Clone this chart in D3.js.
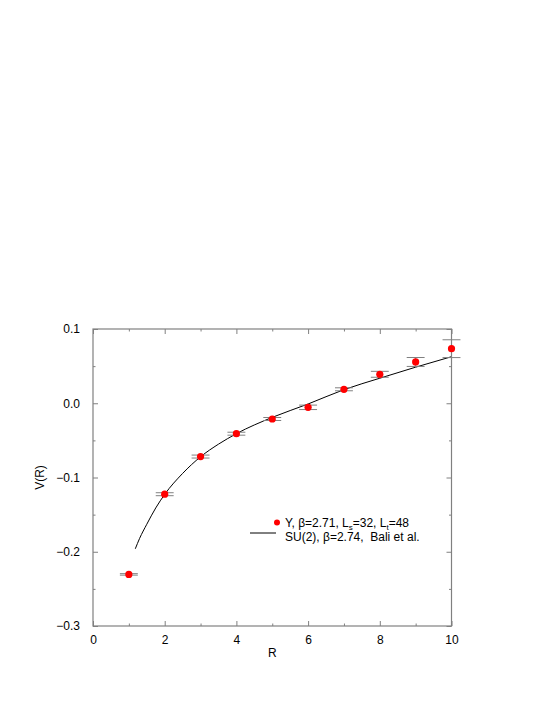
<!DOCTYPE html>
<html><head><meta charset="utf-8">
<script src="https://cdn.jsdelivr.net/npm/d3@7"></script>
<style>body{margin:0;background:#fff}svg{display:block}text{font-family:"Liberation Sans",Arial,Helvetica,sans-serif}</style>
</head><body>
<script>
// Data points (lattice Y configuration)
const pointR = [1, 2, 3, 4, 5, 6, 7, 8, 9, 10];
const pointV = [-0.2305, -0.1225, -0.0718, -0.041, -0.0212, -0.0055, 0.0188, 0.039, 0.0556, 0.0735];
const pointErr = [0.001, 0.002, 0.002, 0.002, 0.002, 0.003, 0.002, 0.004, 0.006, 0.012];
// SU(2) Bali et al. curve
const curveR = [1.18, 1.3, 1.5, 1.75, 2, 2.5, 3, 3.5, 4, 5, 6, 7, 8, 9, 10];
const curveV = [-0.196, -0.182, -0.163, -0.141, -0.1227, -0.0945, -0.0721, -0.0551, -0.041, -0.019, -0.001, 0.0183, 0.0337, 0.0486, 0.0627];
const xTicks = [0, 2, 4, 6, 8, 10];
const yTicks = [-0.3, -0.2, -0.1, 0.0, 0.1];
const xMinor = [1, 3, 5, 7, 9];
const yMinor = [-0.25, -0.15, -0.05, 0.05];

const W = 545, H = 705;
const FS = 12;
const svg = d3.select("body").append("svg").attr("width", W).attr("height", H);
const x = d3.scaleLinear().domain([0, 10]).range([93, 451.5]);
const y = d3.scaleLinear().domain([-0.3, 0.1]).range([626, 329]);
const axisCol = "#808080";

const g = svg.append("g");
// frame
g.append("rect").attr("x", x(0)).attr("y", y(0.1)).attr("width", x(10) - x(0)).attr("height", y(-0.3) - y(0.1))
  .attr("fill", "none").attr("stroke", axisCol).attr("stroke-width", 1.2);

function fmtY(d) { return d === 0 ? "0.0" : d3.format(".1f")(d).replace("-", "\u2212"); }

// axes via d3 axis generators, inward ticks
const axB = g.append("g").attr("transform", `translate(0,${y(-0.3)})`)
  .call(d3.axisBottom(x).tickValues(xTicks).tickSizeInner(-5).tickSizeOuter(0).tickPadding(9).tickFormat(d3.format("d")));
const axBm = g.append("g").attr("transform", `translate(0,${y(-0.3)})`)
  .call(d3.axisBottom(x).tickValues(xMinor).tickSizeInner(-2.5).tickSizeOuter(0).tickFormat(""));
const axT = g.append("g").attr("transform", `translate(0,${y(0.1)})`)
  .call(d3.axisTop(x).tickValues(xTicks).tickSizeInner(-5).tickSizeOuter(0).tickFormat(""));
const axTm = g.append("g").attr("transform", `translate(0,${y(0.1)})`)
  .call(d3.axisTop(x).tickValues(xMinor).tickSizeInner(-2.5).tickSizeOuter(0).tickFormat(""));
const axL = g.append("g").attr("transform", `translate(${x(0)},0)`)
  .call(d3.axisLeft(y).tickValues(yTicks).tickSizeInner(-5).tickSizeOuter(0).tickPadding(13).tickFormat(fmtY));
const axLm = g.append("g").attr("transform", `translate(${x(0)},0)`)
  .call(d3.axisLeft(y).tickValues(yMinor).tickSizeInner(-2.5).tickSizeOuter(0).tickFormat(""));
const axR = g.append("g").attr("transform", `translate(${x(10)},0)`)
  .call(d3.axisRight(y).tickValues(yTicks).tickSizeInner(-5).tickSizeOuter(0).tickFormat(""));
const axRm = g.append("g").attr("transform", `translate(${x(10)},0)`)
  .call(d3.axisRight(y).tickValues(yMinor).tickSizeInner(-2.5).tickSizeOuter(0).tickFormat(""));
[axB, axBm, axT, axTm, axL, axLm, axR, axRm].forEach(a => {
  a.select(".domain").remove();
  a.selectAll("line").attr("stroke", axisCol).attr("stroke-width", 1);
  a.selectAll("text").attr("fill", "#000").attr("font-size", FS).attr("font-family", "Liberation Sans, Arial, sans-serif");
});

// axis titles
g.append("text").attr("x", (x(0) + x(10)) / 2).attr("y", 657).attr("text-anchor", "middle").attr("font-size", FS).text("R");
g.append("text").attr("transform", `translate(44,${(y(0.1) + y(-0.3)) / 2}) rotate(-90)`).attr("text-anchor", "middle").attr("font-size", FS).text("V(R)");

// curve
const line = d3.line().x(d => x(d[0])).y(d => y(d[1])).curve(d3.curveMonotoneX);
g.append("path").datum(curveR.map((r, i) => [r, curveV[i]])).attr("d", line)
  .attr("fill", "none").attr("stroke", "#000").attr("stroke-width", 1);

// error bars
const pts = pointR.map((r, i) => ({ r, v: pointV[i], e: pointErr[i] }));
const eb = g.append("g").attr("stroke", "#808080").attr("stroke-width", 1);
pts.forEach(p => {
  eb.append("line").attr("x1", x(p.r)).attr("x2", x(p.r)).attr("y1", y(p.v - p.e)).attr("y2", y(p.v + p.e));
  [p.v - p.e, p.v + p.e].forEach(v => eb.append("line").attr("x1", x(p.r - 0.25)).attr("x2", x(p.r + 0.25)).attr("y1", y(v)).attr("y2", y(v)));
});
g.append("g").selectAll("circle").data(pts).join("circle")
  .attr("cx", d => x(d.r)).attr("cy", d => y(d.v)).attr("r", 3.6).attr("fill", "#ff0000");

// legend
const lg = g.append("g").attr("font-size", FS);
lg.append("circle").attr("cx", 277).attr("cy", 522.5).attr("r", 3).attr("fill", "#ff0000");
const t1 = lg.append("text").attr("x", 285).attr("y", 527);
t1.append("tspan").text("Y, \u03b2=2.71, L");
t1.append("tspan").attr("font-size", 8).attr("dy", 2.5).text("s");
t1.append("tspan").attr("dy", -2.5).text("=32, L");
t1.append("tspan").attr("font-size", 8).attr("dy", 2.5).text("t");
t1.append("tspan").attr("dy", -2.5).text("=48");
lg.append("line").attr("x1", 250).attr("x2", 276).attr("y1", 533).attr("y2", 533).attr("stroke", "#000").attr("stroke-width", 1);
lg.append("text").attr("x", 285).attr("y", 541).attr("xml:space", "preserve").style("white-space", "pre").text("SU(2), \u03b2=2.74,  Bali et al.");
</script>
</body></html>
